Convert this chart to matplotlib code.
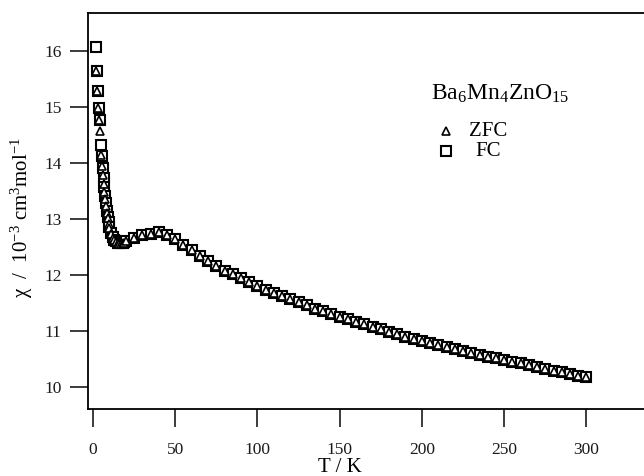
import matplotlib
matplotlib.use("Agg")
import matplotlib.pyplot as plt

plt.rcParams['font.family'] = ['Liberation Serif', 'DejaVu Serif']
plt.rcParams['mathtext.fontset'] = 'custom'
plt.rcParams['mathtext.rm'] = 'Liberation Serif'
plt.rcParams['mathtext.it'] = 'Liberation Serif:italic'

# ---- data ----
T_fc = [2, 2.5, 3, 3.5, 4, 5, 5.5, 6, 6.5, 7, 7.5, 8, 8.5, 9, 9.5, 10, 11, 12, 13, 14,
        15, 16, 17, 18, 19, 20, 25, 30, 35, 40, 45, 50, 55, 60, 65, 70, 75, 80,
        85, 90, 95, 100, 105, 110, 115, 120, 125, 130, 135, 140, 145, 150, 155, 160,
        165, 170, 175, 180, 185, 190, 195, 200, 205, 210, 215, 220, 225, 230, 235,
        240, 245, 250, 255, 260, 265, 270, 275, 280, 285, 290, 295, 300]
chi_fc = [16.07, 15.65, 15.28, 14.99, 14.76, 14.32, 14.12, 13.92, 13.74, 13.57, 13.42,
          13.28, 13.15, 13.04, 12.94, 12.86, 12.75, 12.68, 12.63, 12.60, 12.58, 12.57,
          12.57, 12.58, 12.59, 12.61, 12.67, 12.71, 12.74, 12.76, 12.72, 12.64,
          12.54, 12.44, 12.34, 12.25, 12.16, 12.08, 12.01, 11.94, 11.87, 11.80, 11.74,
          11.68, 11.62, 11.57, 11.51, 11.46, 11.40, 11.35, 11.30, 11.25, 11.21, 11.16,
          11.12, 11.07, 11.03, 10.99, 10.94, 10.90, 10.86, 10.82, 10.78, 10.75, 10.71,
          10.68, 10.64, 10.61, 10.58, 10.54, 10.51, 10.48, 10.45, 10.42, 10.39, 10.35,
          10.32, 10.29, 10.26, 10.23, 10.20, 10.17]

T_zfc = [2, 2.5, 3, 3.5, 4, 5, 5.5, 6, 6.5, 7, 7.5, 8, 8.5, 9, 9.5, 10, 11, 12, 13, 14,
         15, 16, 17, 18, 19, 20, 25, 30, 35, 40, 45, 50, 55, 60, 65, 70, 75, 80,
         85, 90, 95, 100, 105, 110, 115, 120, 125, 130, 135, 140, 145, 150, 155, 160,
         165, 170, 175, 180, 185, 190, 195, 200, 205, 210, 215, 220, 225, 230, 235,
         240, 245, 250, 255, 260, 265, 270, 275, 280, 285, 290, 295, 300]
chi_zfc = [15.65, 15.28, 14.98, 14.76, 14.57, 14.14, 13.95, 13.78, 13.62, 13.48, 13.35,
           13.23, 13.11, 13.01, 12.92, 12.84, 12.74, 12.67, 12.62, 12.59, 12.57, 12.56,
           12.56, 12.57, 12.58, 12.60, 12.67, 12.71, 12.74, 12.76, 12.72, 12.64,
           12.54, 12.44, 12.34, 12.25, 12.16, 12.08, 12.01, 11.94, 11.87, 11.80, 11.74,
           11.68, 11.62, 11.57, 11.51, 11.46, 11.40, 11.35, 11.30, 11.25, 11.21, 11.16,
           11.12, 11.07, 11.03, 10.99, 10.94, 10.90, 10.86, 10.82, 10.78, 10.75, 10.71,
           10.68, 10.64, 10.61, 10.58, 10.54, 10.51, 10.48, 10.45, 10.42, 10.39, 10.35,
           10.32, 10.29, 10.26, 10.23, 10.20, 10.17]

x_ticks = [0, 50, 100, 150, 200, 250, 300]
y_ticks = [10, 11, 12, 13, 14, 15, 16]
compound = 'Ba$_{6}$Mn$_{4}$ZnO$_{15}$'
series_labels = ['ZFC', 'FC']

# ---- figure ----
W, H = 644, 476
L, R, TOP, BOT = 88, 644, 13, 409
fig = plt.figure(figsize=(W/100, H/100), dpi=100)
ax = fig.add_axes([L/W, 1-BOT/H, (R-L)/W, (BOT-TOP)/H])

def axfrac(px, py):
    return ((px-L)/(R-L), (BOT-py)/(BOT-TOP))

sq = dict(ls='none', marker='s', ms=6.8, mfc='white', mec='black', mew=1.5)
tri = dict(ls='none', marker='^', ms=5.2, mfc='white', mec='black', mew=1.2)

ax.plot(T_fc, chi_fc, **sq)
ax.plot(T_zfc, chi_zfc, **tri)

ax.set_xlim(-3, 335)
ax.set_ylim(9.607, 16.68)
ax.set_xticks(x_ticks)
ax.set_yticks(y_ticks)
ax.tick_params(direction='out', length=13, width=1.2, labelsize=12.5, colors='#1a1a1a')
ax.tick_params(axis='x', pad=11)
ax.tick_params(axis='y', pad=6)
for s in ['left', 'bottom', 'top']:
    ax.spines[s].set_linewidth(1.3)
ax.spines['right'].set_visible(False)

ax.set_xlabel('T / K', fontsize=15)
ax.xaxis.label.set_va('center')
ax.xaxis.set_label_coords(*axfrac(340, 467))
ax.set_ylabel('χ  /  10$^{-3}$ cm$^{3}$mol$^{-1}$', fontsize=15)
ax.yaxis.label.set_va('center')
ax.yaxis.set_label_coords(*axfrac(22, 217))

# legend-like annotations
ax.text(*axfrac(500, 100), compound, fontsize=17, ha='center', va='baseline',
        transform=ax.transAxes)
ax.plot(*axfrac(446, 131), transform=ax.transAxes, **tri)
ax.plot(*axfrac(446, 151), transform=ax.transAxes, **sq)
ax.text(*axfrac(488, 131), series_labels[0], fontsize=15, ha='center', va='center',
        transform=ax.transAxes)
ax.text(*axfrac(488, 151), series_labels[1], fontsize=15, ha='center', va='center',
        transform=ax.transAxes)

plt.savefig('out.png', dpi=100)
